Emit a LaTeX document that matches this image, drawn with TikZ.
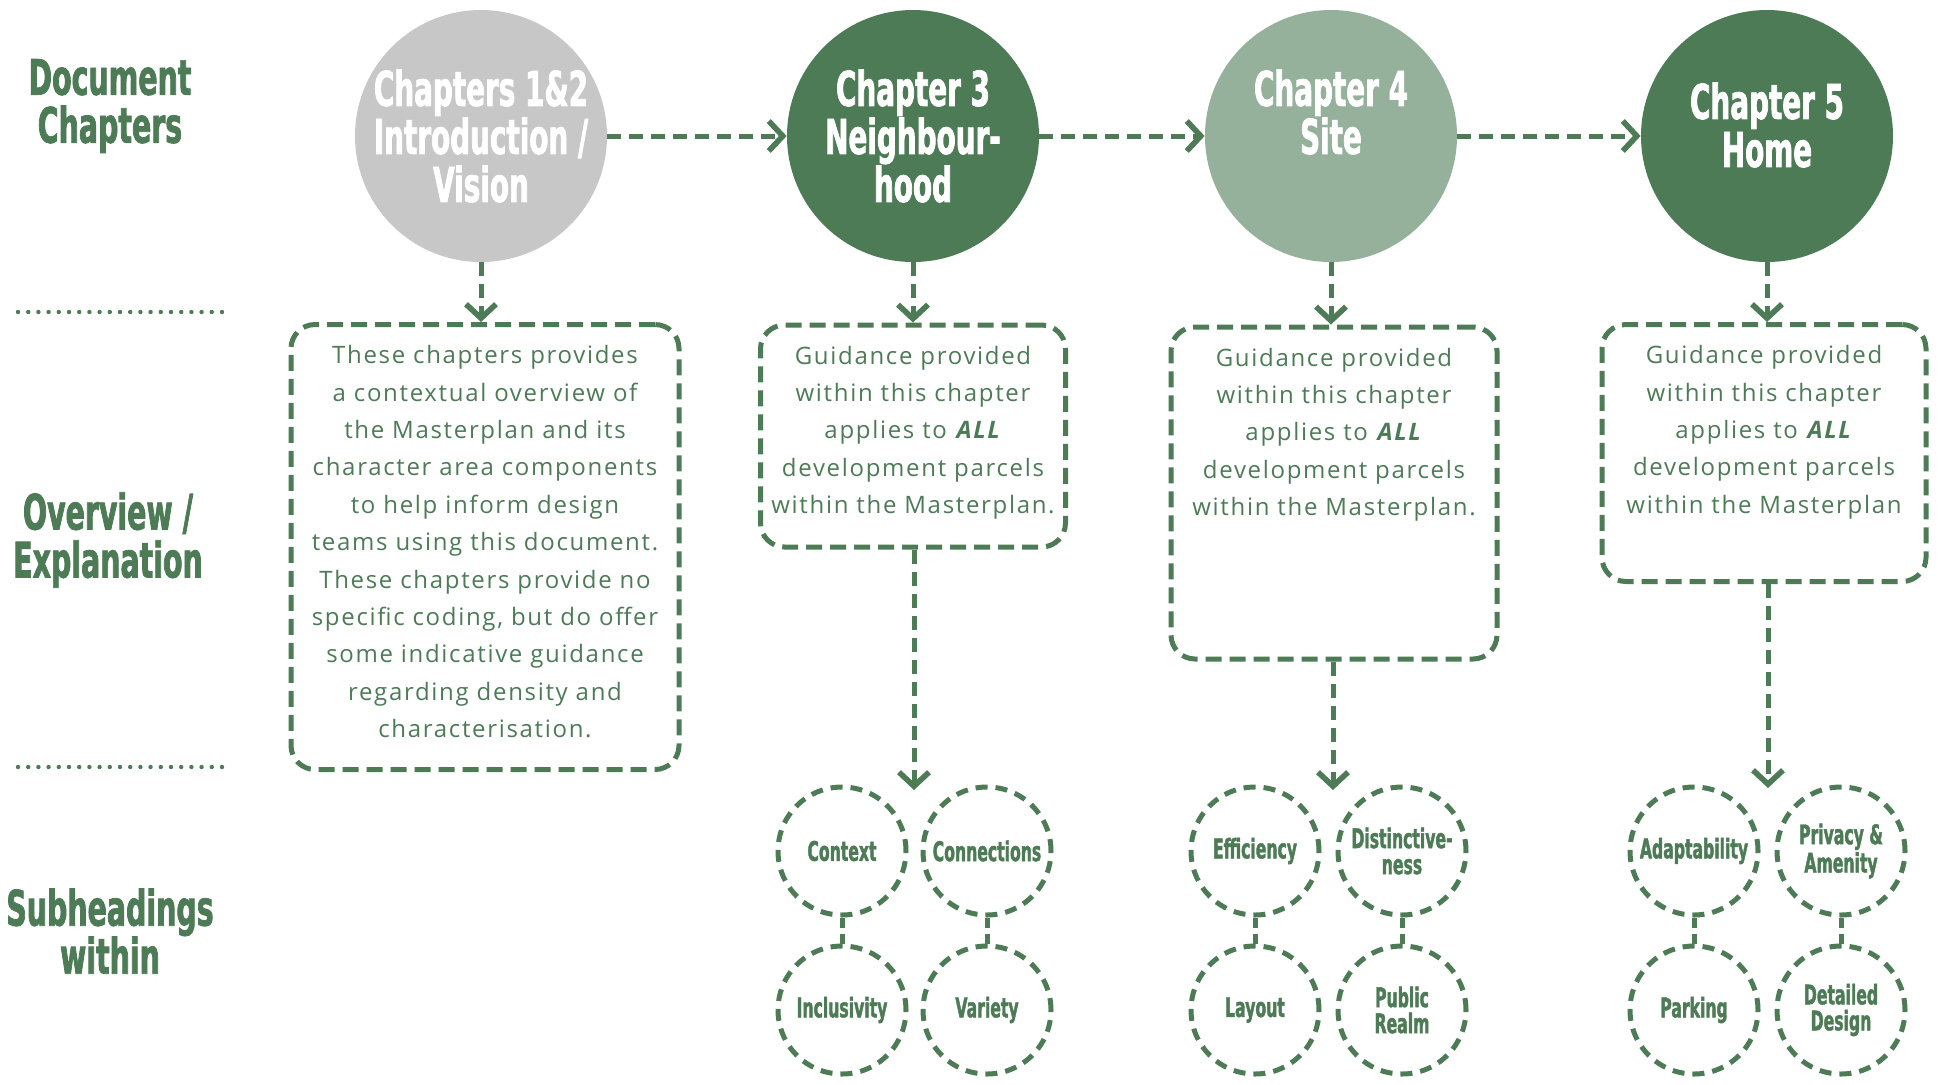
\documentclass[tikz,border=0pt]{standalone}
\usepackage{fontspec}
\setmainfont{Open Sans}[LetterSpace=7]
\newfontfamily\headfont{DejaVu Sans}[FakeStretch=0.58, BoldFeatures={FakeBold=1.5}]
\usetikzlibrary{positioning,arrows.meta}
\definecolor{docgreen}{HTML}{4C7B56}
\definecolor{sitegreen}{HTML}{95B09B}
\definecolor{introgrey}{HTML}{C7C7C7}

\begin{document}
\begin{tikzpicture}[x=0.5pt, y=-0.5pt,
    chapter/.style={circle, minimum size=126pt, inner sep=0pt},
    chaplabel/.style={text=white, align=center, font=\headfont\bfseries\fontsize{24}{24}\selectfont},
    sidehead/.style={text=docgreen, align=center, font=\headfont\bfseries\fontsize{24.5}{24}\selectfont},
    % dashed boxes and their text, placed from the top of the box
    guidebox/.style={draw=docgreen, line width=2.5pt, dash pattern=on 8pt off 4pt, rounded corners=12pt, inner sep=0pt},
    guidetext/.style={text=docgreen, align=center, inner sep=0pt, font=\fontsize{12}{18.7}\selectfont},
    subhead/.style={circle, draw=docgreen, line width=2.5pt, dash pattern=on 6pt off 4pt, minimum size=64pt, inner sep=0pt, align=center, text=docgreen, font=\headfont\bfseries\fontsize{13.5}{13}\selectfont},
    flow/.style={draw=docgreen, line width=2.5pt, dash pattern=on 7pt off 4pt, -{Straight Barb[length=7pt, width=15pt, line width=2.8pt]}},
    link/.style={draw=docgreen, line width=2.5pt, dash pattern=on 5pt off 3pt},
    rowsep/.style={draw=docgreen, line width=2.2pt, line cap=round, dash pattern=on 0pt off 5.1pt}
  ]
    \useasboundingbox (0,0) rectangle (1951,1084);

    %--- Row labels and separators
    \node[sidehead] (hdoc) at (110,106) {Document\\Chapters};
    \node[sidehead] (hover) at (108,540) {Overview /\\Explanation};
    \node[sidehead] (hsub) at (110,931) {Subheadings\\within};
    \coordinate (sepA) at (18,312);
    \coordinate (sepB) at (18,767);
    \draw[rowsep] (sepA) -- ++(205,0);
    \draw[rowsep] (sepB) -- ++(205,0);

    %--- Chapters
    \node[chapter, fill=introgrey, label={[chaplabel]center:{Chapters 1\&2\\Introduction /\\Vision}}] (c12) at (481,136) {};
    \node[chapter, fill=docgreen, label={[chaplabel]center:{Chapter 3\\Neighbour-\\hood}}] (c3) at (913,136) {};
    \node[chapter, fill=sitegreen, label={[chaplabel, yshift=12pt]center:{Chapter 4\\Site}}] (c4) at (1331,136) {};
    \node[chapter, fill=docgreen, label={[chaplabel, yshift=5.5pt]center:{Chapter 5\\Home}}] (c5) at (1767,136) {};

    \draw[flow] (c12) -- (c3);
    \draw[flow] (c3) -- (c4);
    \draw[flow] (c4) -- (c5);

    %--- Overview boxes
    \node[guidebox, minimum width=194pt, minimum height=222.5pt] (b1) at (485,547) {};
    \node[guidebox, minimum width=152.5pt, minimum height=111pt] (b2) at (913,436) {};
    \node[guidebox, minimum width=163pt, minimum height=166pt] (b3) at (1334,493) {};
    \node[guidebox, minimum width=162pt, minimum height=128.5pt] (b4) at (1764,453) {};

    \node[guidetext, below=11.5pt of b1.north] (t1) {These chapters provides\\a contextual overview of\\the Masterplan and its\\character area components\\to help inform design\\teams using this document.\\These chapters provide no\\specific coding, but do offer\\some indicative guidance\\regarding density and\\characterisation.};
    \node[guidetext, below=11.5pt of b2.north] (t2) {Guidance provided\\within this chapter\\applies to \textbf{\textit{ALL}}\\development parcels\\within the Masterplan.};
    \node[guidetext, below=11.5pt of b3.north] (t3) {Guidance provided\\within this chapter\\applies to \textbf{\textit{ALL}}\\development parcels\\within the Masterplan.};
    \node[guidetext, below=11.5pt of b4.north] (t4) {Guidance provided\\within this chapter\\applies to \textbf{\textit{ALL}}\\development parcels\\within the Masterplan};

    \draw[flow] (c12) -- (c12 |- b1.north);
    \draw[flow] (c3) -- (c3 |- b2.north);
    \draw[flow] (c4) -- (c4 |- b3.north);
    \draw[flow] (c5) -- (c5 |- b4.north);

    %--- Subheadings
    \node[subhead] (ctx) at (842,851) {Context};
    \node[subhead] (con) at (987,851) {Connections};
    \node[subhead] (inc) at (842,1010) {Inclusivity};
    \node[subhead] (var) at (987,1010) {Variety};

    \node[subhead] (eff) at (1255,851) {Efficiency};
    \node[subhead] (dis) at (1402,851) {Distinctive-\\ness};
    \node[subhead] (lay) at (1255,1010) {Layout};
    \node[subhead] (pub) at (1402,1010) {Public\\Realm};

    \node[subhead] (ada) at (1694,851) {Adaptability};
    \node[subhead] (pri) at (1841,851) {Privacy \&\\Amenity};
    \node[subhead] (par) at (1694,1010) {Parking};
    \node[subhead] (det) at (1841,1010) {Detailed\\Design};

    \draw[link] (ctx) -- (inc);
    \draw[link] (con) -- (var);
    \draw[link] (eff) -- (lay);
    \draw[link] (dis) -- (pub);
    \draw[link] (ada) -- (par);
    \draw[link] (pri) -- (det);

    \coordinate (m3) at (914,790);
    \coordinate (m4) at (1333,790);
    \coordinate (m5) at (1768,788);
    \draw[flow] (b2.south -| m3) -- (m3);
    \draw[flow] (b3.south -| m4) -- (m4);
    \draw[flow] (b4.south -| m5) -- (m5);
\end{tikzpicture}
\end{document}
